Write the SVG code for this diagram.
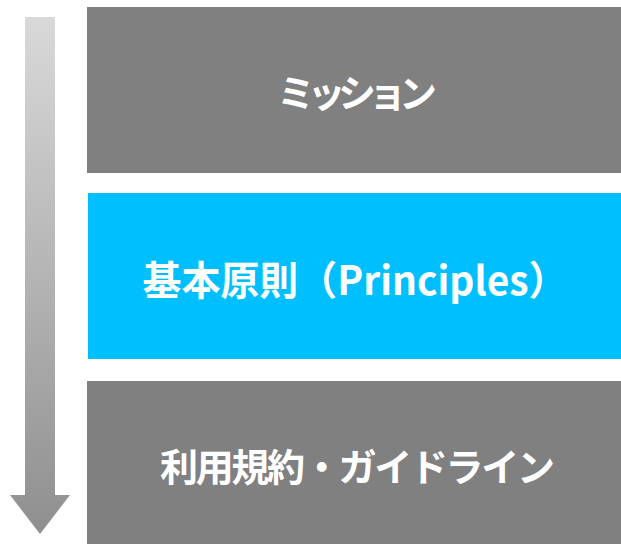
<svg xmlns="http://www.w3.org/2000/svg" width="621" height="544" viewBox="0 0 621 544">
  <defs>
    <linearGradient id="arrowGrad" gradientUnits="userSpaceOnUse" x1="0" y1="17" x2="0" y2="534">
      <stop offset="0" stop-color="#D9D9D9"/>
      <stop offset="1" stop-color="#8F8F8F"/>
    </linearGradient>
    <style>
      .gray { fill: #808080; }
      .cyan { fill: #00BFFF; }
      .label { fill: #FFFFFF; font-family: "Noto Sans CJK JP", "Noto Sans", sans-serif; font-weight: 700; text-anchor: middle; dominant-baseline: central; }
    </style>
  </defs>
  <rect width="621" height="544" fill="#FFFFFF"/>
  <g id="connectors">
    <path d="M25,17 H55 V495 H70 L40,534 L10,495 H25 Z" fill="url(#arrowGrad)"/>
  </g>
  <g id="mission">
    <rect class="gray" x="87" y="7" width="534" height="166"/>
    <text class="label" x="357" y="90" font-size="38" textLength="160" lengthAdjust="spacing">ミッション</text>
  </g>
  <g id="principles">
    <rect class="cyan" x="88" y="193" width="533" height="166"/>
    <text class="label" x="355" y="278" font-size="40" textLength="425" lengthAdjust="spacingAndGlyphs">基本原則（Principles）</text>
  </g>
  <g id="terms">
    <rect class="gray" x="87" y="381" width="534" height="163"/>
    <text class="label" x="357.5" y="464" font-size="38" textLength="395" lengthAdjust="spacing">利用規約・ガイドライン</text>
  </g>
</svg>
